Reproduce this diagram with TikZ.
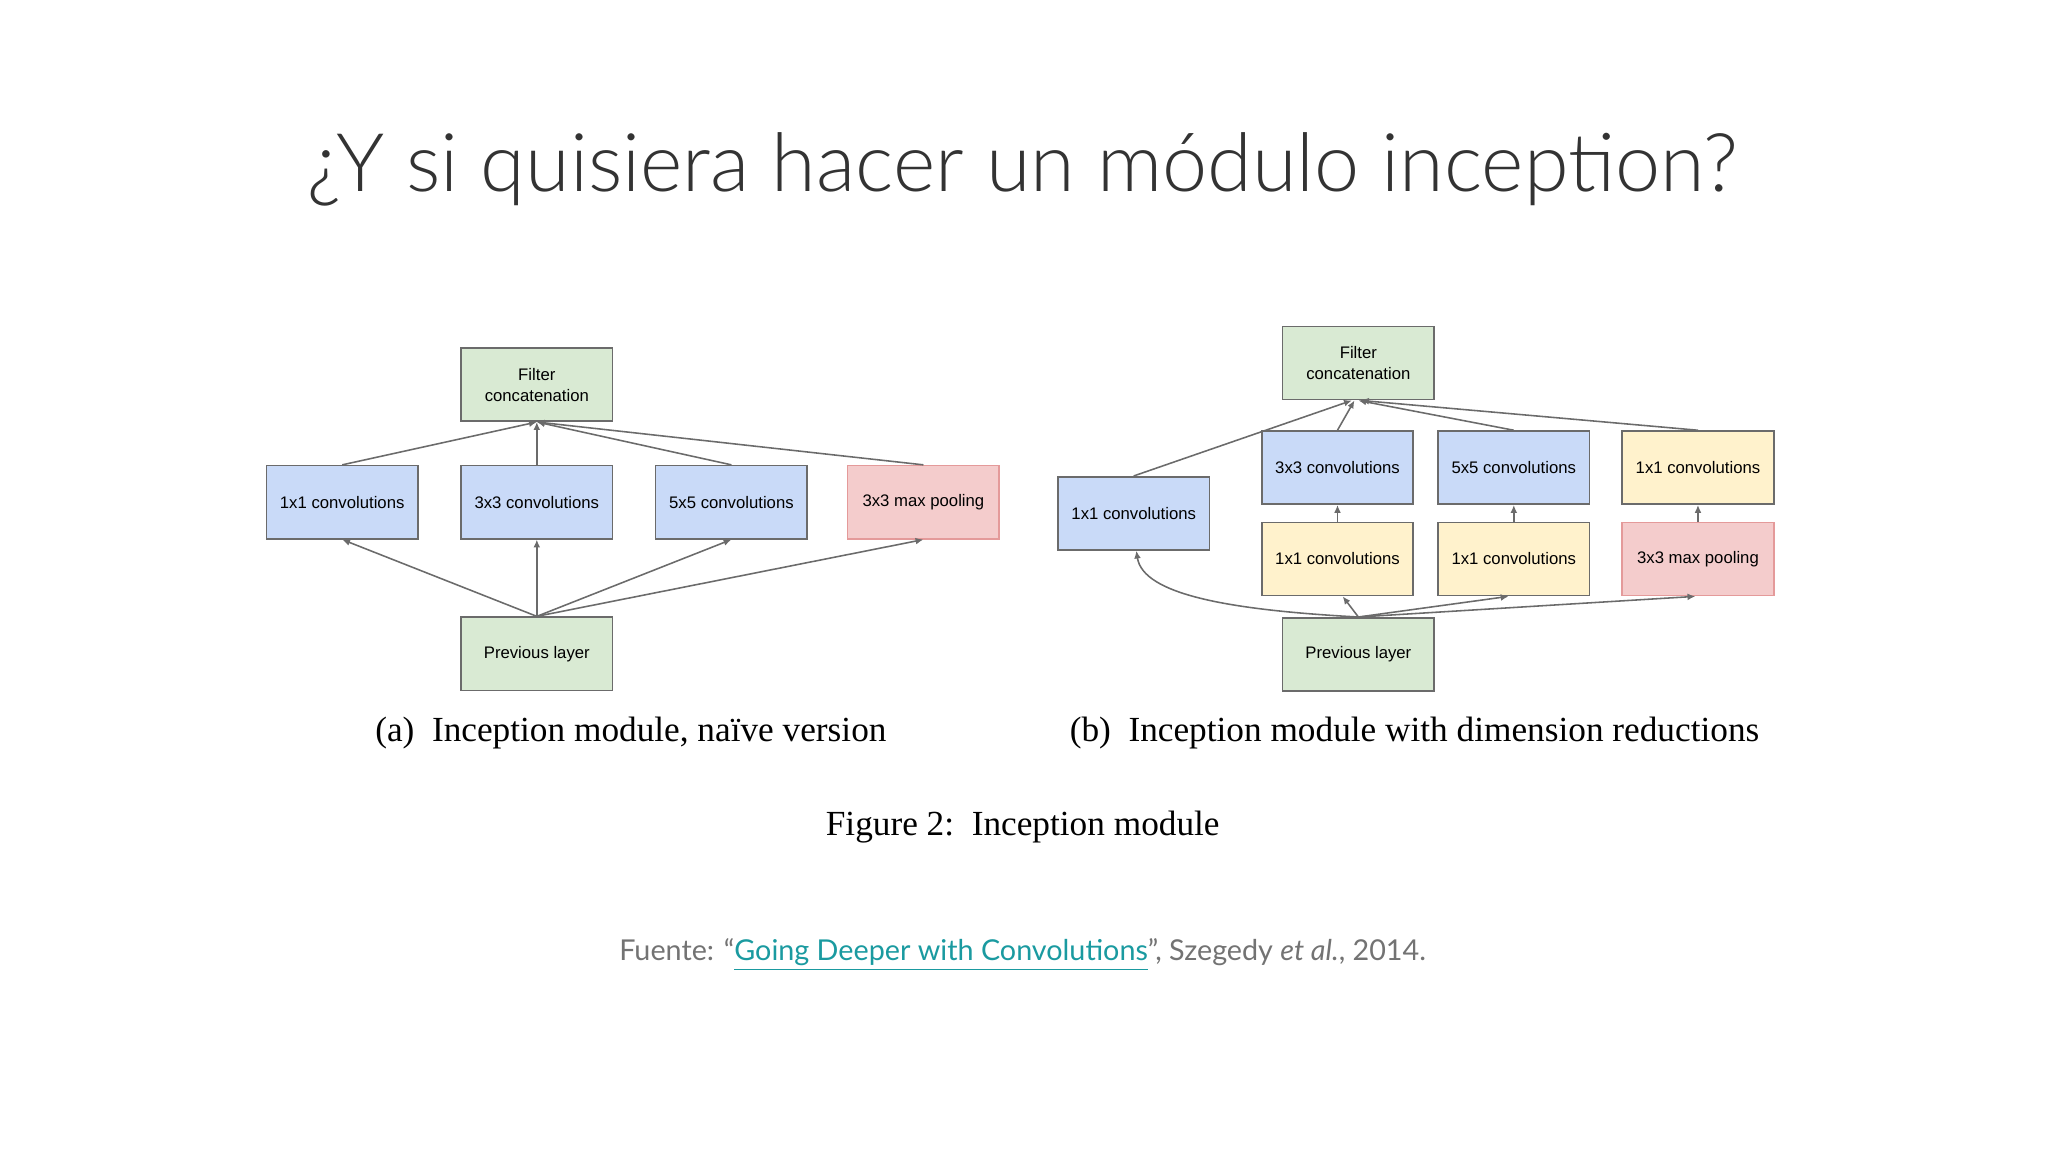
\documentclass[tikz,border=0pt]{standalone}
\usepackage{fontspec}
\setmainfont{Liberation Serif}
\newfontfamily\boxfont{Liberation Sans}
\newfontfamily\titlefont{Lato Light}
\newfontfamily\srcfont{Lato}
\usetikzlibrary{arrows.meta}
\definecolor{bfill}{HTML}{C9DAF8}
\definecolor{gfill}{HTML}{D9EAD3}
\definecolor{yfill}{HTML}{FFF2CC}
\definecolor{rfill}{HTML}{F4CCCC}
\definecolor{edge}{HTML}{6B6B6B}
\definecolor{redge}{HTML}{E49A9A}
\definecolor{teal}{HTML}{1A9AA0}
\begin{document}
\begin{tikzpicture}[x=0.5pt,y=-0.5pt,
  bx/.style={draw=edge,line width=0.6pt,minimum width=58pt,minimum height=28pt,inner sep=0pt,font=\boxfont\fontsize{6.4}{8}\selectfont,align=center},
  gb/.style={bx,fill=gfill},
  bb/.style={bx,fill=bfill},
  yb/.style={bx,fill=yfill},
  rb/.style={bx,fill=rfill,draw=redge},
  ar/.style={draw=edge,line width=0.6pt,-{Latex[length=3pt,width=2.6pt]}}]
\useasboundingbox (0,0) rectangle (1568,882);
\node[font=\titlefont\fontsize{31}{36}\selectfont,text=black!80] (title) at (783,130) {¿Y si quisiera hacer un módulo inception?};
% (a)
\node[gb] (af) at (411,294.5) {Filter\\concatenation};
\node[bb] (a1) at (262,384.5) {1x1 convolutions};
\node[bb] (a3) at (411,384.5) {3x3 convolutions};
\node[bb] (a5) at (560,384.5) {5x5 convolutions};
\node[rb] (ap) at (707,384.5) {3x3 max pooling};
\node[gb] (ai) at (411,500.5) {Previous layer};
\foreach \n in {a1,a3,a5,ap}{
  \draw[ar] (\n.north) -- (af.south);
  \draw[ar] (ai.north) -- (\n.south);
}
% (b)
\node[gb] (bf) at (1040,278) {Filter\\concatenation};
\node[bb] (b1) at (868,393) {1x1 convolutions};
\node[bb] (b3) at (1024,358) {3x3 convolutions};
\node[bb] (b5) at (1159,358) {5x5 convolutions};
\node[yb] (bp1) at (1300,358) {1x1 convolutions};
\node[yb] (b3r) at (1024,428) {1x1 convolutions};
\node[yb] (b5r) at (1159,428) {1x1 convolutions};
\node[rb] (bpp) at (1300,428) {3x3 max pooling};
\node[gb] (bi) at (1040,501) {Previous layer};
\draw[ar] (b1.north) -- ([xshift=-2.5pt]bf.south);
\draw[ar] (b3.north) -- ([xshift=-1.5pt]bf.south);
\draw[ar] (b5.north) -- (bf.south);
\draw[ar] (bp1.north) -- ([xshift=1pt]bf.south);
\draw[ar] (b3r.north) -- (b3.south);
\draw[ar] (b5r.north) -- (b5.south);
\draw[ar] (bpp.north) -- (bp1.south);
\draw[ar] (bi.north) -- ([xshift=2pt]b3r.south);
\draw[ar] (bi.north) -- ([xshift=-2pt]b5r.south);
\draw[ar] (bi.north) -- ([xshift=-1pt]bpp.south);
\draw[ar] (bi.north) .. controls (940,467) and (875,455) .. ([xshift=1pt]b1.south);
% captions
\node[font=\fontsize{13.5}{16}\selectfont] (ca) at (483,561) {(a)\ \ Inception module, naïve version};
\node[font=\fontsize{13.5}{16}\selectfont] (cb) at (1083,561) {(b)\ \ Inception module with dimension reductions};
\node[font=\fontsize{13.5}{16}\selectfont] (cf) at (783,633) {Figure 2:\ \ Inception module};
\node[font=\srcfont\fontsize{11}{14}\selectfont,text=black!55] (src) at (783,731) {Fuente: “\textcolor{teal}{\underline{Going Deeper with Convolutions}}”, Szegedy \textit{et al.}, 2014.};
\end{tikzpicture}
\end{document}
